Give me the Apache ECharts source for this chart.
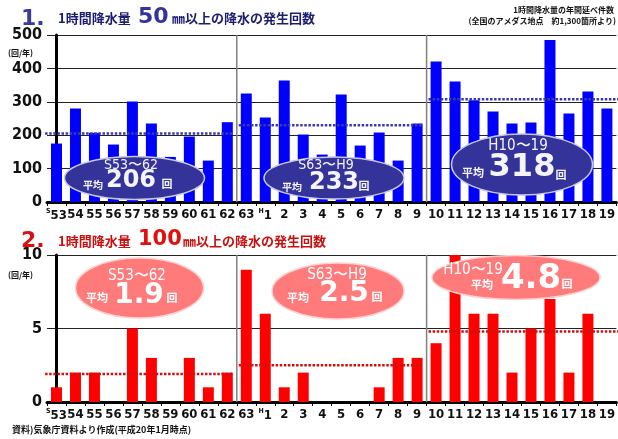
<!DOCTYPE html>
<html><head><meta charset="utf-8">
<script src="https://cdn.jsdelivr.net/npm/echarts@6/dist/echarts.min.js"></script>
<style>html,body{margin:0;padding:0;background:#fff}#c{width:618px;height:439px}</style>
</head><body><div id="c"></div>
<script>
// ---- data ----
const years = ['S53','S54','S55','S56','S57','S58','S59','S60','S61','S62','S63',
  'H1','H2','H3','H4','H5','H6','H7','H8','H9','H10','H11','H12','H13','H14','H15','H16','H17','H18','H19'];
const count50 = [175,280,207,172,301,235,135,196,124,239,325,253,364,202,142,322,169,208,124,235,421,361,305,271,235,238,485,265,331,280];
const count100 = [1,2,2,0,5,3,0,3,1,2,9,6,1,2,0,0,0,1,3,3,4,10,6,6,2,5,7,2,6,0];
const periods = ['S53〜62','S63〜H9','H10〜19'];
const avg50 = [206,233,318];
const avg50Line = [205,230,308];
const avg100 = [1.9,2.5,4.8];
const periodStart = [0,10,20];
const periodEnd = [9,19,29];
const yTicks50 = [0,100,200,300,400,500];
const yTicks100 = [0,5,10];

// ---- helpers ----
const FONT_NUM = 'DejaVu Sans Condensed';
function xLabel(v){
  if (v === 'S53') return '{p|S}{n|53}';
  if (v === 'H1') return '{p|H}{n|1}';
  return '{n|' + v.slice(1) + '}';
}
const xRich = {
  n:{fontFamily:FONT_NUM,fontSize:13,color:'#111',fontWeight:'bold'},
  p:{fontFamily:FONT_NUM,fontSize:7,color:'#111',verticalAlign:'top',padding:[0,0,8,0],fontWeight:'bold'}
};
function avgSegs(vals, idx){
  return periods.map((p,i)=>({
    type:'line', xAxisIndex:idx, yAxisIndex:idx-2, symbol:'none', silent:true, z:5,
    data:[[periodStart[i]-0.5+(i?0.1:-0.1), vals[i]],[periodEnd[i]+0.5-(i<2?0.2:-0.1), vals[i]]],
    lineStyle:{color: idx===2?'#3a3aa8':'#d01010', width:2.5, type:[2.5,1.6]}
  }));
}
function sepLines(idx, top){
  return [periodEnd[0]+0.5, periodEnd[1]+0.5].map(x=>({
    type:'line', xAxisIndex:idx, yAxisIndex:idx-2, symbol:'none', silent:true, z:1,
    data:[[x,0],[x,top]], lineStyle:{color:'#808080', width:1.5}
  }));
}
function yAxisCfg(gi, max, interval){
  return {
    type:'value', gridIndex:gi, min:0, max:max, interval:interval,
    axisLine:{show:true, lineStyle:{color:'#000', width:3}},
    axisTick:{show:false},
    axisLabel:{fontFamily:FONT_NUM, fontSize:16, color:'#111', margin:5, fontWeight:'bold'},
    splitLine:{lineStyle:{color:'#222', width:1.2}}
  };
}
function xAxisCfg(gi){
  return {
    type:'category', gridIndex:gi, data:years,
    axisLine:{lineStyle:{color:'#000', width:3}},
    axisTick:{show:true, length:4, lineStyle:{color:'#000', width:1}},
    axisLabel:{interval:0, margin:6, formatter:xLabel, rich:xRich}
  };
}
const W = 572, L = 47;

function txt(x, y, text, font, fill, extra){
  return {type:'text', x:x, y:y, z:12, style:Object.assign({text:text, font:font, fill:fill, textAlign:'left', textVerticalAlign:'middle'}, extra||{})};
}
function ellipseGroup(cx, cy, rx, ry, fill, stroke, items){
  const els = [{type:'ellipse', shape:{cx:cx, cy:cy, rx:rx, ry:ry}, style:{fill:fill, stroke:stroke, lineWidth:1.5}, z:10}];
  items.forEach(t=>els.push({type:'text', x:t.x, y:t.y, z:11, style:Object.assign({
    text:t.text, fill:t.fill||'#f4f4fa', font:t.font, textAlign:t.align||'center', textVerticalAlign:'middle'
  }, t.shadow?{textShadowColor:t.shadow, textShadowOffsetX:1.5, textShadowOffsetY:1.5, textShadowBlur:0}:{})}));
  return els;
}
const JP = '"Noto Sans CJK JP"';
const bigNum = 'bold 24px "DejaVu Sans"';
const graphics = [].concat(
  [
   // title 1
   txt(21, 19, '1.', 'bold 22px "DejaVu Sans"', '#3b3b9e', {textShadowColor:'#bbb', textShadowOffsetX:1, textShadowOffsetY:1}),
   txt(58, 18, '1時間降水量', 'bold 13px '+JP, '#1c1c70'),
   txt(138, 17, '50', 'bold 22px "DejaVu Sans"', '#33339a', {textShadowColor:'#bbb', textShadowOffsetX:1, textShadowOffsetY:1}),
   txt(172, 18, '㎜以上の降水の発生回数', 'bold 13px '+JP, '#1c1c70'),
   // title 2
   txt(21, 241, '2.', 'bold 22px "DejaVu Sans"', '#d81010', {textShadowColor:'#ddd', textShadowOffsetX:1, textShadowOffsetY:1}),
   txt(58, 241, '1時間降水量', 'bold 13px '+JP, '#c81010'),
   txt(138, 240, '100', 'bold 21px "DejaVu Sans"', '#e01010', {textShadowColor:'#ddd', textShadowOffsetX:1, textShadowOffsetY:1}),
   txt(183, 241, '㎜以上の降水の発生回数', 'bold 13px '+JP, '#c81010'),
   {type:'text', right:4, top:6, style:{text:'1時間降水量の年間延べ件数', font:'bold 8px '+JP, fill:'#111', textAlign:'right'}},
   {type:'text', right:2, top:17, style:{text:'(全国のアメダス地点　約1,300箇所より)', font:'bold 8px '+JP, fill:'#111', textAlign:'right'}},
   {type:'text', left:8, top:49, style:{text:'(回/年)', font:'bold 8px '+JP, fill:'#111'}},
   {type:'text', left:8, top:271, style:{text:'(回/年)', font:'bold 8px '+JP, fill:'#111'}},
   {type:'text', left:12, top:425, style:{text:'資料)気象庁資料より作成(平成20年1月時点)', font:'bold 9px '+JP, fill:'#111'}}
  ],
  // top ellipses
  ellipseGroup(134.5, 178, 70, 21.5, '#333399', '#c8c8ec', [
    {text:periods[0], x:131, y:165, font:'14px "DejaVu Sans Condensed"'},
    {text:'平均', x:93, y:185, font:'bold 10px '+JP},
    {text:String(avg50[0]), x:131, y:181, font:bigNum, shadow:'#8a8a9a'},
    {text:'回', x:167, y:184, font:'bold 11px '+JP}
  ]),
  ellipseGroup(334, 178, 70, 21, '#333399', '#c8c8ec', [
    {text:periods[1], x:326, y:165, font:'14px "DejaVu Sans Condensed"'},
    {text:'平均', x:292, y:187, font:'bold 10px '+JP},
    {text:String(avg50[1]), x:334, y:183, font:bigNum, shadow:'#8a8a9a'},
    {text:'回', x:364, y:186, font:'bold 11px '+JP}
  ]),
  ellipseGroup(522, 164.5, 70.5, 30.5, '#333399', '#c8c8ec', [
    {text:periods[2], x:518, y:146, font:'15px "DejaVu Sans Condensed"'},
    {text:'平均', x:473, y:173, font:'bold 11px '+JP},
    {text:String(avg50[2]), x:522, y:168, font:'bold 32px "DejaVu Sans"', shadow:'#8a8a9a'},
    {text:'回', x:561, y:175, font:'bold 11px '+JP}
  ]),
  // bottom ellipses
  ellipseGroup(139.5, 288, 64, 30, '#ff7b7b', '#ffd0d0', [
    {text:periods[0], x:137, y:276, font:'15px "DejaVu Sans Condensed"', fill:'#fff'},
    {text:'平均', x:97, y:298, font:'bold 11px '+JP, fill:'#fff'},
    {text:avg100[0].toFixed(1), x:139, y:296, font:'bold 28px "DejaVu Sans"', fill:'#fff', shadow:'#9a9a9a'},
    {text:'回', x:172, y:298, font:'bold 11px '+JP, fill:'#fff'}
  ]),
  ellipseGroup(338, 291, 66, 28, '#ff7b7b', '#ffd0d0', [
    {text:periods[1], x:337, y:275, font:'15px "DejaVu Sans Condensed"', fill:'#fff'},
    {text:'平均', x:298, y:298, font:'bold 11px '+JP, fill:'#fff'},
    {text:avg100[1].toFixed(1), x:344, y:294, font:'bold 28px "DejaVu Sans"', fill:'#fff', shadow:'#9a9a9a'},
    {text:'回', x:377, y:297, font:'bold 11px '+JP, fill:'#fff'}
  ]),
  ellipseGroup(516, 277.5, 84, 22, '#ff7b7b', '#ffd0d0', [
    {text:periods[2], x:473, y:270, font:'15px "DejaVu Sans Condensed"', fill:'#fff'},
    {text:'平均', x:482, y:285, font:'bold 11px '+JP, fill:'#fff'},
    {text:avg100[2].toFixed(1), x:531, y:279, font:'bold 34px "DejaVu Sans"', fill:'#fff', shadow:'#9a9a9a'},
    {text:'回', x:567, y:284, font:'bold 11px '+JP, fill:'#fff'}
  ])
);

const chart = echarts.init(document.getElementById('c'), null, {renderer:'canvas'});
chart.setOption({
  animation:false,
  backgroundColor:'#fff',
  grid:[
    {left:L, width:W, top:35, height:167},
    {left:L, width:W, top:255, height:147}
  ],
  xAxis:[
    xAxisCfg(0), xAxisCfg(1),
    {type:'value', gridIndex:0, min:-0.5, max:29.5, show:false},
    {type:'value', gridIndex:1, min:-0.5, max:29.5, show:false}
  ],
  yAxis:[ yAxisCfg(0, yTicks50[yTicks50.length-1], yTicks50[1]), yAxisCfg(1, yTicks100[yTicks100.length-1], yTicks100[1]) ],
  series:[].concat(
    sepLines(2, 500), sepLines(3, 10),
    [{type:'bar', xAxisIndex:0, yAxisIndex:0, data:count50, barWidth:11, itemStyle:{color:'#0000ff'}, z:3},
     {type:'bar', xAxisIndex:1, yAxisIndex:1, data:count100, barWidth:11, itemStyle:{color:'#ff0000'}, z:3}],
    avgSegs(avg50Line, 2), avgSegs(avg100, 3)
  ),
  graphic:graphics
});
</script></body></html>
